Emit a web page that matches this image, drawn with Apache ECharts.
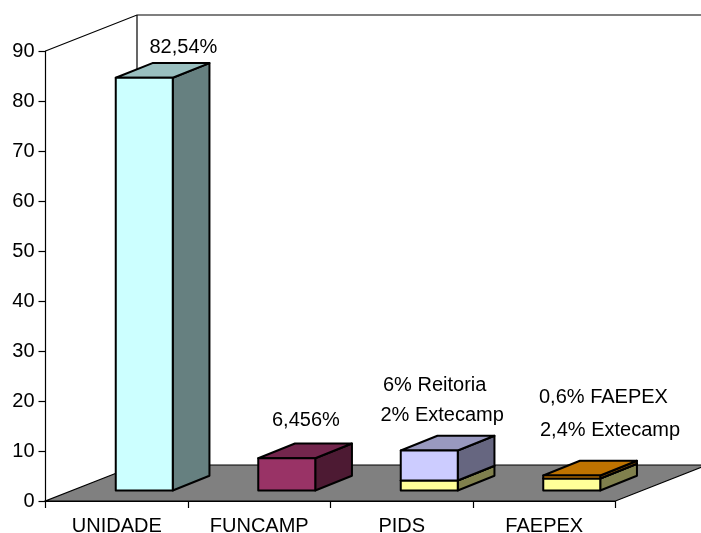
<!DOCTYPE html>
<html><head><meta charset="utf-8">
<style>html,body{margin:0;padding:0;background:#fff}#c{width:701px;height:533px}</style>
<script src="https://cdn.jsdelivr.net/npm/echarts@6/dist/echarts.min.js"></script>
</head><body><div id="c"></div>
<script>
const categories = ['UNIDADE','FUNCAMP','PIDS','FAEPEX'];
const lowerValues = [82.54, 6.456, 2, 2.4];
const upperValues = [0, 0, 6, 0.6];
const lowerColors = ['#CCFFFF','#993366','#FFFF99','#FFFF99'];
const upperColors = ['#CCFFFF','#993366','#CCCCFF','#FF9900'];
const yTicks = {min:0,max:90,interval:10};
const annotations = [
  ['82,54%',149.5,47.5],['6,456%',272,420.5],['6% Reitoria',383,385],
  ['2% Extecamp',380.5,415],['0,6% FAEPEX',539,397],['2,4% Extecamp',540,430]
];
const FONT='"Liberation Sans", Arial, sans-serif', FS=20;
const WALL=[91.5,-36], OFF=[27.5,-10.5], DEPTH=[36.7,-14.7], BARW=0.4;
function shade(hex,f){
  const n=parseInt(hex.slice(1),16);
  const c=[n>>16,(n>>8)&255,n&255].map(v=>Math.round(v*f));
  return 'rgb('+c.join(',')+')';
}
function seg(params,api){
  const i=api.value(0), a=api.value(1), b=api.value(2), col=api.value(3)===0?lowerColors[i]:upperColors[i];
  if(b<=a) return null;
  const bw=api.size([1,0])[0], w=bw*BARW;
  const p0=api.coord([i,a]), p1=api.coord([i,b]);
  const xl=p0[0]-w/2+OFF[0], xr=xl+w, yb=p0[1]+OFF[1], yt=p1[1]+OFF[1];
  const st={stroke:'#000',lineWidth:2,lineJoin:'round'};
  const poly=(pts,fill)=>({type:'polygon',shape:{points:pts},style:Object.assign({fill},st)});
  return {type:'group',children:[
    poly([[xr,yb],[xr+DEPTH[0],yb+DEPTH[1]],[xr+DEPTH[0],yt+DEPTH[1]],[xr,yt]],shade(col,0.5)),
    poly([[xl,yt],[xr,yt],[xr+DEPTH[0],yt+DEPTH[1]],[xl+DEPTH[0],yt+DEPTH[1]]],shade(col,0.75)),
    poly([[xl,yb],[xr,yb],[xr,yt],[xl,yt]],col)
  ]};
}
function walls(params){
  const g=params.coordSys, x0=g.x, x1=g.x+g.width, yT=g.y, yB=g.y+g.height;
  const ls={stroke:'#000',lineWidth:1.2,fill:null};
  return {type:'group',children:[
    {type:'polygon',shape:{points:[[x0,yB],[x1,yB],[x1+WALL[0],yB+WALL[1]],[x0+WALL[0],yB+WALL[1]]]},style:{fill:'#808080',stroke:'#000',lineWidth:1.2}},
    {type:'polyline',shape:{points:[[x0,yT],[x0+WALL[0],yT+WALL[1]],[x1+WALL[0],yT+WALL[1]]]},style:ls},
    {type:'line',shape:{x1:x0+WALL[0],y1:yT+WALL[1],x2:x0+WALL[0],y2:yB+WALL[1]},style:ls}
  ]};
}
const chart=echarts.init(document.getElementById('c'),null,{renderer:'canvas'});
const axisStyle={lineStyle:{color:'#000',width:1.2}};
chart.setOption({
  animation:false,
  textStyle:{fontFamily:FONT},
  grid:{left:45.5,right:85.5,top:51,bottom:32,containLabel:false,outerBoundsMode:'none'},
  xAxis:{type:'category',data:categories,z:5,
    axisLine:Object.assign({show:true,onZero:false},axisStyle),
    axisTick:Object.assign({show:true,length:7,alignWithLabel:false},axisStyle),
    axisLabel:{color:'#000',fontSize:FS,fontFamily:FONT,margin:15,interval:0},
    splitLine:{show:false}},
  yAxis:{type:'value',min:yTicks.min,max:yTicks.max,interval:yTicks.interval,z:5,
    axisLine:Object.assign({show:true},axisStyle),
    axisTick:Object.assign({show:true,length:7},axisStyle),
    axisLabel:{color:'#000',fontSize:FS,fontFamily:FONT,margin:11},
    splitLine:{show:false}},
  series:[
    {type:'custom',z:1,silent:true,clip:false,renderItem:walls,data:[[0,0]],encode:{x:0,y:1}},
    {type:'custom',z:2,silent:true,clip:false,renderItem:seg,encode:{x:0,y:2},
      data:categories.map((c,i)=>[i,0,lowerValues[i],0])},
    {type:'custom',z:3,silent:true,clip:false,renderItem:seg,encode:{x:0,y:2},
      data:categories.map((c,i)=>[i,lowerValues[i],lowerValues[i]+upperValues[i],1])}
  ],
  graphic:annotations.map(a=>({type:'text',x:a[1],y:a[2],z:20,
    style:{text:a[0],fill:'#000',font:FS+'px '+FONT,textAlign:'left',textVerticalAlign:'middle'}}))
});
</script></body></html>
